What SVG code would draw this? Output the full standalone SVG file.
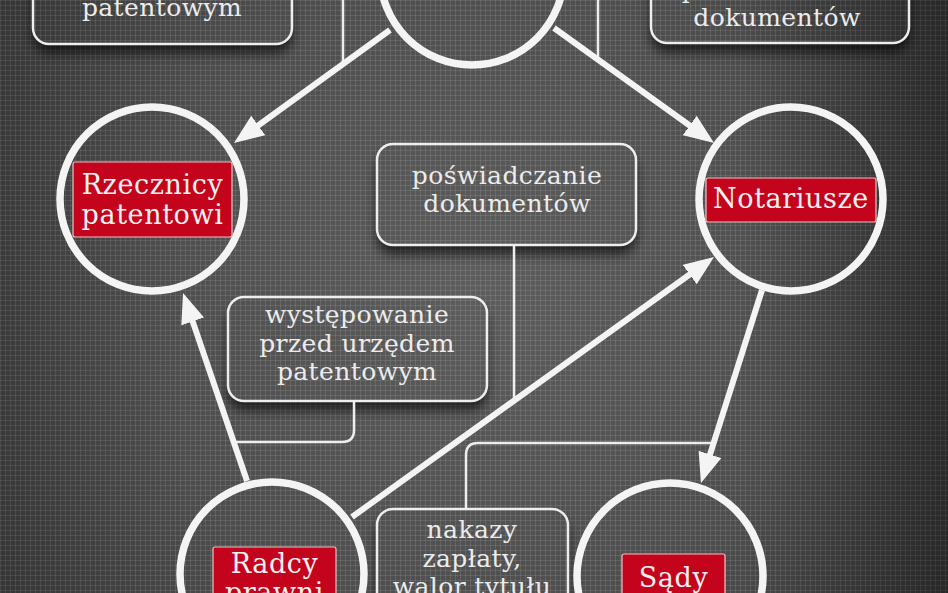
<svg xmlns="http://www.w3.org/2000/svg" width="948" height="593" viewBox="0 0 948 593">
<defs>
  <radialGradient id="bg" cx="480" cy="290" r="620" gradientUnits="userSpaceOnUse">
    <stop offset="0" stop-color="#5d5d5d"/>
    <stop offset="0.55" stop-color="#4d4d4d"/>
    <stop offset="1" stop-color="#383838"/>
  </radialGradient>
  <linearGradient id="side" x1="0" y1="0" x2="948" y2="0" gradientUnits="userSpaceOnUse">
    <stop offset="0" stop-color="#000" stop-opacity="0.12"/>
    <stop offset="0.2" stop-color="#000" stop-opacity="0"/>
    <stop offset="0.78" stop-color="#000" stop-opacity="0"/>
    <stop offset="1" stop-color="#000" stop-opacity="0.35"/>
  </linearGradient>
  <pattern id="grid" width="5" height="5" patternUnits="userSpaceOnUse">
    <path d="M0,0.5 H5 M0.5,0 V5" stroke="#ffffff" stroke-opacity="0.1" stroke-width="1" fill="none"/>
  </pattern>
  <filter id="sh" x="-20%" y="-30%" width="140%" height="180%">
    <feGaussianBlur in="SourceAlpha" stdDeviation="6" result="b"/>
    <feOffset in="b" dy="9" result="o"/>
    <feComposite in="o" in2="SourceAlpha" operator="out" result="c"/>
    <feColorMatrix in="c" type="matrix" values="0 0 0 0 0  0 0 0 0 0  0 0 0 0 0  0 0 0 0.65 0"/>
  </filter>
  <marker id="ah" viewBox="0 0 30 24" refX="18" refY="12" markerWidth="30" markerHeight="24" markerUnits="userSpaceOnUse" orient="auto">
    <path d="M0,0 L30,12 L0,24 z" fill="#f4f4f4"/>
  </marker>
  <style>
    .ring { fill: none; stroke: #f4f4f4; stroke-width: 7.5; }
    .box { fill: none; stroke: #eeeeee; stroke-width: 2.5; }
    .shadow { fill: #000; }
    .bracket { fill: none; stroke: #eeeeee; stroke-width: 2.5; }
    .arrow { fill: none; stroke: #f4f4f4; stroke-width: 6; marker-end: url(#ah); }
    .label { fill: #c3041c; stroke: #e8c4c4; stroke-width: 1.2; }
    .lt { font-family: "DejaVu Serif", "Liberation Serif", serif; font-size: 27px; letter-spacing: 0.6px; fill: #f8f0f0; text-anchor: middle; }
    .bt { font-family: "DejaVu Serif", "Liberation Serif", serif; font-size: 25px; letter-spacing: 0.4px; fill: #ececec; text-anchor: middle; }
  </style>
</defs>

<rect width="948" height="593" fill="url(#bg)"/>
<rect width="948" height="593" fill="url(#grid)"/>
<rect width="948" height="593" fill="url(#side)"/>

<g id="box-top-left">
  <rect class="shadow" x="33" y="-40" width="259" height="84" rx="16" filter="url(#sh)"/>
  <rect class="box" x="33" y="-40" width="259" height="84" rx="16"/>
  <text class="bt" x="162" y="16">patentowym</text>
</g>
<g id="box-top-right">
  <rect class="shadow" x="651" y="-40" width="258" height="83" rx="16" filter="url(#sh)"/>
  <rect class="box" x="651" y="-40" width="258" height="83" rx="16"/>
  <text class="bt" x="777" y="-2">poświadczanie</text>
  <text class="bt" x="777" y="26">dokumentów</text>
</g>
<g id="box-center">
  <rect class="shadow" x="377" y="144" width="259" height="101" rx="16" filter="url(#sh)"/>
  <rect class="box" x="377" y="144" width="259" height="101" rx="16"/>
  <text class="bt" x="507" y="184">poświadczanie</text>
  <text class="bt" x="507" y="212">dokumentów</text>
</g>
<g id="box-wystepowanie">
  <rect class="shadow" x="228" y="297" width="259" height="104" rx="16" filter="url(#sh)"/>
  <rect class="box" x="228" y="297" width="259" height="104" rx="16"/>
  <text class="bt" x="357" y="323">występowanie</text>
  <text class="bt" x="357" y="352">przed urzędem</text>
  <text class="bt" x="357" y="380">patentowym</text>
</g>
<g id="box-nakazy">
  <rect class="shadow" x="377" y="509" width="191" height="120" rx="16" filter="url(#sh)"/>
  <rect class="box" x="377" y="509" width="191" height="120" rx="16"/>
  <text class="bt" x="472" y="538">nakazy</text>
  <text class="bt" x="472" y="567">zapłaty,</text>
  <text class="bt" x="472" y="595">walor tytułu</text>
</g>

<g id="connectors">
  <path class="bracket" d="M300,-8 H333 Q343,-8 343,2 V62"/>
  <path class="bracket" d="M640,-8 H608 Q598,-8 598,2 V60"/>
  <path class="bracket" d="M514,245 V400"/>
  <path class="bracket" d="M354,401 V430 Q354,442 342,442 H234"/>
  <path class="bracket" d="M466,509 V455 Q466,443 478,443 H712"/>
  <path class="arrow" d="M390,30 L243.7,136"/>
  <path class="arrow" d="M554,28 L704.3,136"/>
  <path class="arrow" d="M247,481 L186.9,304.4"/>
  <path class="arrow" d="M352,517 L704.3,264"/>
  <path class="arrow" d="M762,290 L704.6,471.6"/>
</g>

<g id="node-top">
  <circle class="ring" cx="472" cy="-27" r="92"/>
</g>
<g id="node-rzecznicy">
  <circle class="ring" cx="152" cy="199" r="92"/>
  <rect class="label" x="73" y="162" width="159" height="75" rx="2"/>
  <text class="lt" x="152.5" y="194">Rzecznicy</text>
  <text class="lt" x="152.5" y="224">patentowi</text>
</g>
<g id="node-notariusze">
  <circle class="ring" cx="791" cy="199" r="92"/>
  <rect class="label" x="706" y="178" width="170" height="44" rx="2"/>
  <text class="lt" x="791" y="208">Notariusze</text>
</g>
<g id="node-radcy">
  <circle class="ring" cx="272" cy="574" r="92"/>
  <rect class="label" x="213" y="547" width="123" height="75" rx="2"/>
  <text class="lt" x="274.5" y="573">Radcy</text>
  <text class="lt" x="274.5" y="602">prawni</text>
</g>
<g id="node-sady">
  <circle class="ring" cx="670" cy="576" r="93"/>
  <rect class="label" x="622" y="554" width="103" height="60" rx="2"/>
  <text class="lt" x="673.5" y="587">Sądy</text>
</g>
</svg>
